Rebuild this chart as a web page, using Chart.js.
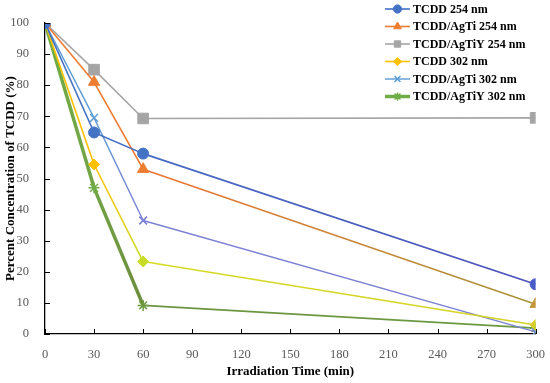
<!DOCTYPE html>
<html>
<head>
<meta charset="utf-8">
<script src="https://cdn.jsdelivr.net/npm/chart.js@4/dist/chart.umd.min.js"></script>
<style>
  html, body { margin: 0; padding: 0; background: #fff; }
  #wrap { width: 550px; height: 383px; position: relative; }
</style>
</head>
<body>
<div id="wrap"><canvas id="tcddChart"></canvas></div>
<script>
// Irradiation time (min) and percent concentration of TCDD (%)
const times = [0, 30, 60, 300];
const seriesNames = ['TCDD 254 nm', 'TCDD/AgTi 254 nm', 'TCDD/AgTiY 254 nm', 'TCDD 302 nm', 'TCDD/AgTi 302 nm', 'TCDD/AgTiY 302 nm'];
const tcdd254 = [100, 64.8, 58.0, 16.0];
const agTi254 = [100, 81.0, 53.0, 9.6];
const agTiY254 = [100, 85.0, 69.3, 69.5];
const tcdd302 = [100, 54.5, 23.3, 2.9];
const agTi302 = [100, 69.5, 36.5, 0.7];
const agTiY302 = [100, 47.0, 9.2, 1.9];
const xTicks = [0, 30, 60, 90, 120, 150, 180, 210, 240, 270, 300];

const serif = '"Liberation Serif", "DejaVu Serif", serif';

// line colours drift along each series in the original (start/end colour per segment)
const styles = [
    { color: '#4472C4', point: 'circle', radius: 5.5, widths: [1.6, 1.6, 1.6],
      segs: [['#4472C4', '#4472C4'], ['#4472C4', '#446AC2'], ['#446AC2', '#4A4FB6']],
      points: ['#4472C4', '#4472C4', '#4472C4', '#4A5CC8'] },
    { color: '#ED7D31', point: 'triangle', radius: 6.5, widths: [1.6, 1.6, 1.6],
      segs: [['#ED7D31', '#ED7D31'], ['#ED7D31', '#ED7533'], ['#ED7533', '#A8943C']],
      points: ['#ED7D31', '#ED7D31', '#ED7D31', '#C4963A'] },
    { color: '#A5A5A5', point: 'rect', radius: 7.5, widths: [1.6, 1.6, 1.6],
      segs: [['#A5A5A5', '#A5A5A5'], ['#A5A5A5', '#A5A5A5'], ['#A5A5A5', '#A5A5A5']],
      points: ['#A5A5A5', '#A5A5A5', '#A5A5A5', '#A5A5A5'] },
    { color: '#FFC000', point: 'rectRot', radius: 5.5, widths: [1.6, 1.6, 1.6],
      segs: [['#FFC000', '#FFC000'], ['#FFC000', '#C9DA28'], ['#D6DA22', '#D4D222']],
      points: ['#FFC000', '#FFC000', '#C8DC28', '#D6CF2C'] },
    { color: '#5B9BD5', point: 'crossRot', radius: 5.5, widths: [1.4, 1.4, 1.4],
      segs: [['#5B9BD5', '#5B9BD5'], ['#5B9BD5', '#7C80D4'], ['#7C80D4', '#7A82D2']],
      points: ['#5B9BD5', '#5B9BD5', '#7C80D4', '#6C8FD0'] },
    { color: '#70AD47', point: 'star', radius: 5.5, widths: [3.5, 3.5, 1.6],
      segs: [['#70AD47', '#72A444'], ['#72A444', '#6C8C3C'], ['#6C9440', '#6A9A40']],
      points: ['#70AD47', '#70AD47', '#6E9A40', '#6A9A40'] }
];
const values = [tcdd254, agTi254, agTiY254, tcdd302, agTi302, agTiY302];

function segGradient(ctx, st) {
    const c = ctx.chart.ctx;
    const g = c.createLinearGradient(ctx.p0.x, ctx.p0.y, ctx.p1.x, ctx.p1.y);
    const pair = st.segs[ctx.p0DataIndex];
    g.addColorStop(0, pair[0]);
    g.addColorStop(1, pair[1]);
    return g;
}

const datasets = values.map((vals, i) => {
    const st = styles[i];
    return {
        label: seriesNames[i],
        data: vals.map((v, j) => ({ x: times[j], y: v })),
        borderColor: st.color,
        backgroundColor: st.color,
        pointBackgroundColor: st.points,
        pointBorderColor: st.points,
        pointStyle: st.point,
        pointRadius: st.radius,
        pointBorderWidth: st.point === 'crossRot' || st.point === 'star' ? 1.5 : 1,
        borderWidth: st.widths[0],
        segment: {
            borderColor: ctx => segGradient(ctx, st),
            borderWidth: ctx => st.widths[ctx.p0DataIndex]
        },
        tension: 0
    };
});

// inward tick marks on both axes
const innerTicks = {
    id: 'innerTicks',
    afterDraw(chart) {
        const { ctx, chartArea, scales } = chart;
        ctx.save();
        ctx.strokeStyle = '#000';
        ctx.lineWidth = 1;
        ctx.beginPath();
        scales.y.ticks.forEach(t => {
            const py = Math.round(scales.y.getPixelForValue(t.value)) + 0.5;
            ctx.moveTo(chartArea.left, py);
            ctx.lineTo(chartArea.left + 5, py);
        });
        scales.x.ticks.forEach(t => {
            const px = Math.round(scales.x.getPixelForValue(t.value)) + 0.5;
            ctx.moveTo(px, chartArea.bottom);
            ctx.lineTo(px, chartArea.bottom - 5);
        });
        ctx.stroke();
        ctx.restore();
    }
};

// legend drawn inside the top-right of the chart, line + marker per series
const lineLegend = {
    id: 'lineLegend',
    afterDraw(chart) {
        const ctx = chart.ctx;
        const x0 = 385, x1 = 410, tx = 413, y0 = 9, step = 17.5;
        ctx.save();
        ctx.font = 'bold 12px ' + serif;
        ctx.textBaseline = 'middle';
        chart.data.datasets.forEach((ds, i) => {
            const st = styles[i];
            const y = y0 + i * step;
            ctx.strokeStyle = st.color;
            ctx.lineWidth = st.widths[0];
            ctx.beginPath();
            ctx.moveTo(x0, y);
            ctx.lineTo(x1, y);
            ctx.stroke();
            ctx.fillStyle = st.color;
            ctx.strokeStyle = st.color;
            ctx.lineWidth = ds.pointBorderWidth;
            Chart.helpers.drawPoint(ctx, {
                pointStyle: ds.pointStyle,
                radius: Math.min(ds.pointRadius * 0.75, 4.5),
                rotation: 0,
                borderWidth: ds.pointBorderWidth
            }, (x0 + x1) / 2, y);
            ctx.fillStyle = '#000';
            ctx.fillText(ds.label, tx, y + 0.5);
        });
        ctx.restore();
    }
};

new Chart(document.getElementById('tcddChart'), {
    type: 'line',
    data: { datasets },
    options: {
        responsive: true,
        maintainAspectRatio: false,
        animation: false,
        layout: { padding: { top: 23, right: 12, left: 3, bottom: 4 } },
        plugins: {
            legend: { display: false },
            tooltip: { enabled: false }
        },
        scales: {
            x: {
                type: 'linear',
                min: 0,
                max: 300,
                afterBuildTicks(scale) {
                    scale.ticks = xTicks.map(v => ({ value: v }));
                },
                afterFit(scale) { scale.height = 45; },
                grid: { display: false },
                border: { display: true, color: '#000', width: 1.3 },
                ticks: {
                    color: '#595959',
                    font: { family: serif, size: 12.5 },
                    padding: 5,
                    maxRotation: 0
                },
                title: {
                    display: true,
                    text: 'Irradiation Time (min)',
                    color: '#000',
                    font: { family: serif, size: 13, weight: 'bold' },
                    padding: { top: 6, bottom: 0 }
                }
            },
            y: {
                min: 0,
                max: 100,
                afterFit(scale) { scale.width = 42; },
                grid: { display: false },
                border: { display: true, color: '#000', width: 1.3 },
                ticks: {
                    stepSize: 10,
                    color: '#595959',
                    font: { family: serif, size: 12.5 },
                    padding: 8
                },
                title: {
                    display: true,
                    text: 'Percent Concentration of TCDD (%)',
                    color: '#000',
                    font: { family: serif, size: 13, weight: 'bold' },
                    padding: { top: 0, bottom: 0 }
                }
            }
        }
    },
    plugins: [innerTicks, lineLegend]
});
</script>
</body>
</html>
